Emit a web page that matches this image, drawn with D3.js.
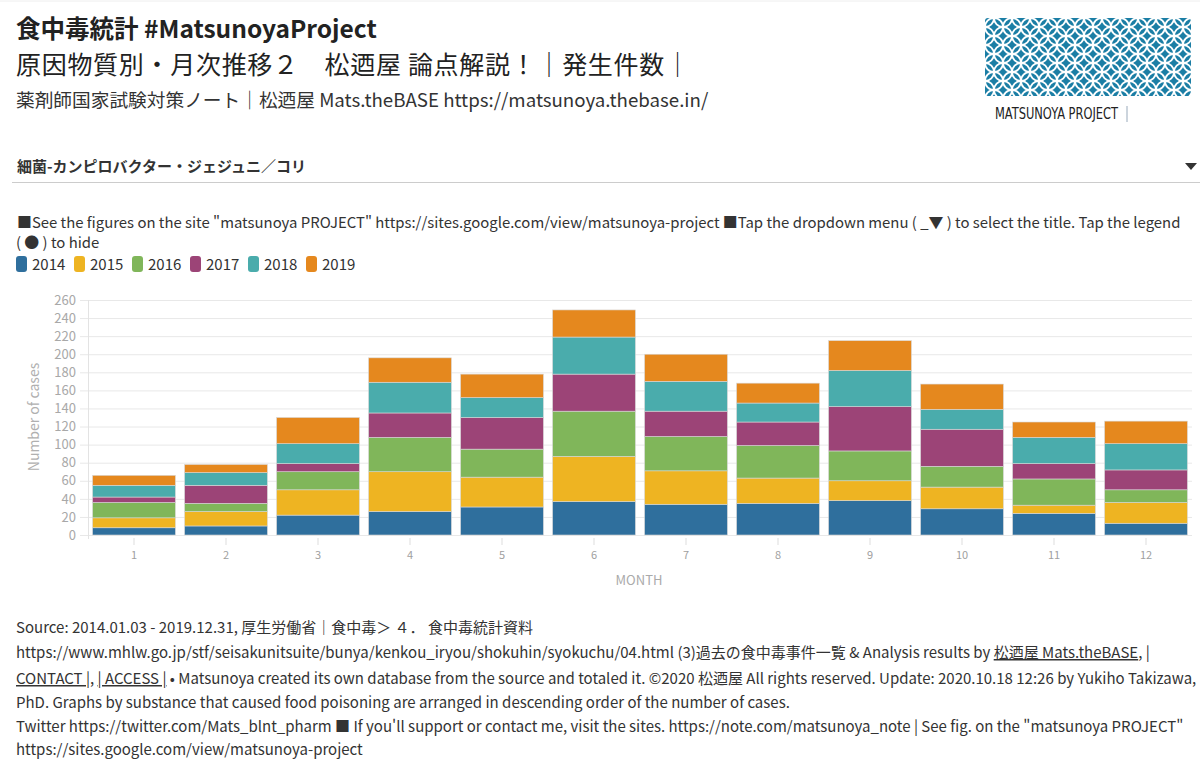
<!doctype html>
<html lang="ja">
<head>
<meta charset="UTF-8" />
<title>食中毒統計 #MatsunoyaProject</title>
<script src="https://cdn.jsdelivr.net/npm/d3@7"></script>
<style>
  body { margin: 0; background: #fff; }
  svg text { font-family: "Noto Sans CJK JP", "Noto Sans", sans-serif; }
</style>
</head>
<body>
<svg id="chart" width="1200" height="771"></svg>
<script>
// data: cases per month, one array per year
var months = ["1","2","3","4","5","6","7","8","9","10","11","12"];
var years = ["2014","2015","2016","2017","2018","2019"];
var cases2014 = [8,10,22,26,31,37,34,35,38,29,24,13];
var cases2015 = [11,16,28,44,33,50,37,28,22,24,9,23];
var cases2016 = [17,9,20,38,31,50,38,36,33,23,29,14];
var cases2017 = [6,20,9,27,35,41,28,26,49,41,17,22];
var cases2018 = [13,14,22,34,22,41,33,21,40,22,29,29];
var cases2019 = [11,9,29,27,26,30,30,22,33,28,17,25];
var yTicks = [0,20,40,60,80,100,120,140,160,180,200,220,240,260];
var colors = ["#2f6f9d","#eeb422","#80b65a","#9c4477","#4aacac","#e5881e"];

var series = [cases2014,cases2015,cases2016,cases2017,cases2018,cases2019];
var table = months.map(function(m, i){
  var row = {month: m};
  years.forEach(function(y, j){ row[y] = series[j][i]; });
  return row;
});

var svg = d3.select("#chart");

// faint top rule
svg.append("line").attr("x1",0).attr("x2",1200).attr("y1",1).attr("y2",1)
  .attr("stroke","#eee");

// header texts
svg.append("text").attr("x",16).attr("y",37.5)
  .attr("font-size",24.5).attr("font-weight","bold").attr("fill","#222")
  .text("食中毒統計 #MatsunoyaProject");
svg.append("text").attr("x",16).attr("y",74)
  .attr("font-size",25).attr("fill","#222")
  .attr("textLength",674).attr("lengthAdjust","spacing")
  .text("原因物質別・月次推移２　松迺屋 論点解説！｜発生件数｜");
svg.append("text").attr("x",16).attr("y",107)
  .attr("font-size",18.7).attr("fill","#333")
  .text("薬剤師国家試験対策ノート｜松迺屋 Mats.theBASE https://matsunoya.thebase.in/");

// logo with a shippo-like pattern
var defs = svg.append("defs");
var pat = defs.append("pattern").attr("id","shippo")
  .attr("patternUnits","userSpaceOnUse").attr("width",18).attr("height",18)
  .attr("x",985).attr("y",18);
pat.append("rect").attr("width",18).attr("height",18).attr("fill","#1b7ea5");
[[0,0],[18,0],[0,18],[18,18],[9,9]].forEach(function(c){
  pat.append("circle").attr("cx",c[0]).attr("cy",c[1]).attr("r",9)
    .attr("fill","none").attr("stroke","#fff").attr("stroke-width",1.8);
});
svg.append("rect").attr("x",985).attr("y",18).attr("width",206).attr("height",78)
  .attr("rx",3).attr("fill","url(#shippo)");
svg.append("text").attr("x",995).attr("y",119)
  .attr("font-size",15).attr("fill","#222")
  .attr("textLength",123).attr("lengthAdjust","spacingAndGlyphs")
  .style("font-family","'Liberation Sans Narrow', 'DejaVu Sans Condensed', sans-serif")
  .text("MATSUNOYA PROJECT");
svg.append("line").attr("x1",1127).attr("x2",1127).attr("y1",106).attr("y2",122)
  .attr("stroke","#9ab");

// dropdown
svg.append("text").attr("x",17).attr("y",172)
  .attr("font-size",15).attr("font-weight","bold").attr("fill","#333")
  .text("細菌-カンピロバクター・ジェジュニ／コリ");
svg.append("line").attr("x1",12).attr("x2",1200).attr("y1",182.5).attr("y2",182.5)
  .attr("stroke","#ccc");
svg.append("path").attr("d",d3.line()([[1185,163],[1197,163],[1191,170]]) + "Z")
  .attr("fill","#333");

// instructions
var info = svg.append("g").attr("font-size",14.9).attr("fill","#333");
info.append("text").attr("x",17).attr("y",228)
  .text("■See the figures on the site \"matsunoya PROJECT\" https://sites.google.com/view/matsunoya-project ■Tap the dropdown menu ( _▼ ) to select the title. Tap the legend");
info.append("text").attr("x",16).attr("y",248).text("( ● ) to hide");

// legend
var legend = svg.append("g").selectAll("g").data(years).join("g")
  .attr("transform", function(d, i){ return "translate(" + (16 + i*58) + ",0)"; });
legend.append("rect").attr("x",0).attr("y",256).attr("width",11).attr("height",16)
  .attr("rx",3).attr("fill", function(d, i){ return colors[i]; });
legend.append("text").attr("x",16).attr("y",270).attr("font-size",15).attr("fill","#333")
  .text(function(d){ return d; });

// chart
var x = d3.scaleBand().domain(months).range([88,1192]).paddingInner(0.1).paddingOuter(0.05);
var y = d3.scaleLinear().domain([0,260]).range([535,300]);

svg.append("g").selectAll("line").data(yTicks).join("line")
  .attr("x1",80).attr("x2",1192)
  .attr("y1", function(d){ return y(d) + 0.5; }).attr("y2", function(d){ return y(d) + 0.5; })
  .attr("stroke","#e8e8e8");
svg.append("line").attr("x1",88.5).attr("x2",88.5).attr("y1",y(260)).attr("y2",y(0)+4)
  .attr("stroke","#e3e3e3");

var yAxis = svg.append("g").attr("transform","translate(79,0)")
  .call(d3.axisLeft(y).tickValues(yTicks).tickSize(0).tickPadding(3));
yAxis.select(".domain").remove();
yAxis.selectAll("text").attr("font-size",13).attr("fill","#a8a8a8")
  .style("font-family","'Noto Sans CJK JP', sans-serif");

var xAxis = svg.append("g").attr("transform","translate(0,538)")
  .call(d3.axisBottom(x).tickSize(7).tickPadding(6));
xAxis.select(".domain").remove();
xAxis.selectAll("line").attr("stroke","#ddd");
xAxis.selectAll("text").attr("font-size",11).attr("fill","#a0a0a0")
  .style("font-family","'Noto Sans CJK JP', sans-serif");

svg.append("text").attr("x",639).attr("y",585).attr("text-anchor","middle")
  .attr("font-size",13).attr("fill","#aaa").text("MONTH");
svg.append("text").attr("transform","translate(39,417) rotate(-90)")
  .attr("text-anchor","middle").attr("font-size",14).attr("fill","#b0b0b0")
  .text("Number of cases");

var stacked = d3.stack().keys(years)(table);
svg.append("g").selectAll("g").data(stacked).join("g")
  .attr("fill", function(d, i){ return colors[i]; })
  .selectAll("rect").data(function(d){ return d; }).join("rect")
  .attr("x", function(d){ return x(d.data.month); })
  .attr("width", x.bandwidth())
  .attr("y", function(d){ return y(d[1]); })
  .attr("height", function(d){ return y(d[0]) - y(d[1]); })
  .attr("stroke","#d8d8d8").attr("stroke-width",0.6);

// footer
var foot = svg.append("g").attr("font-size",15).attr("fill","#333");
foot.append("text").attr("x",16).attr("y",633)
  .text("Source: 2014.01.03 - 2019.12.31, 厚生労働省｜食中毒＞ ４． 食中毒統計資料");
var f2 = foot.append("text").attr("x",16).attr("y",658);
f2.append("tspan").text("https://www.mhlw.go.jp/stf/seisakunitsuite/bunya/kenkou_iryou/shokuhin/syokuchu/04.html (3)過去の食中毒事件一覧 & Analysis results by ");
f2.append("tspan").attr("text-decoration","underline").text("松迺屋 Mats.theBASE");
f2.append("tspan").text(", |");
var f3 = foot.append("text").attr("x",16).attr("y",684);
f3.append("tspan").attr("text-decoration","underline").text("CONTACT |");
f3.append("tspan").text(", ");
f3.append("tspan").attr("text-decoration","underline").text("| ACCESS |");
f3.append("tspan").text(" • Matsunoya created its own database from the source and totaled it. ©2020 松迺屋 All rights reserved. Update: 2020.10.18 12:26 by Yukiho Takizawa,");
foot.append("text").attr("x",16).attr("y",708)
  .text("PhD. Graphs by substance that caused food poisoning are arranged in descending order of the number of cases.");
foot.append("text").attr("x",16).attr("y",732)
  .text("Twitter https://twitter.com/Mats_blnt_pharm ■ If you'll support or contact me, visit the sites. https://note.com/matsunoya_note | See fig. on the \"matsunoya PROJECT\"");
foot.append("text").attr("x",16).attr("y",755)
  .text("https://sites.google.com/view/matsunoya-project");
</script>
</body>
</html>
